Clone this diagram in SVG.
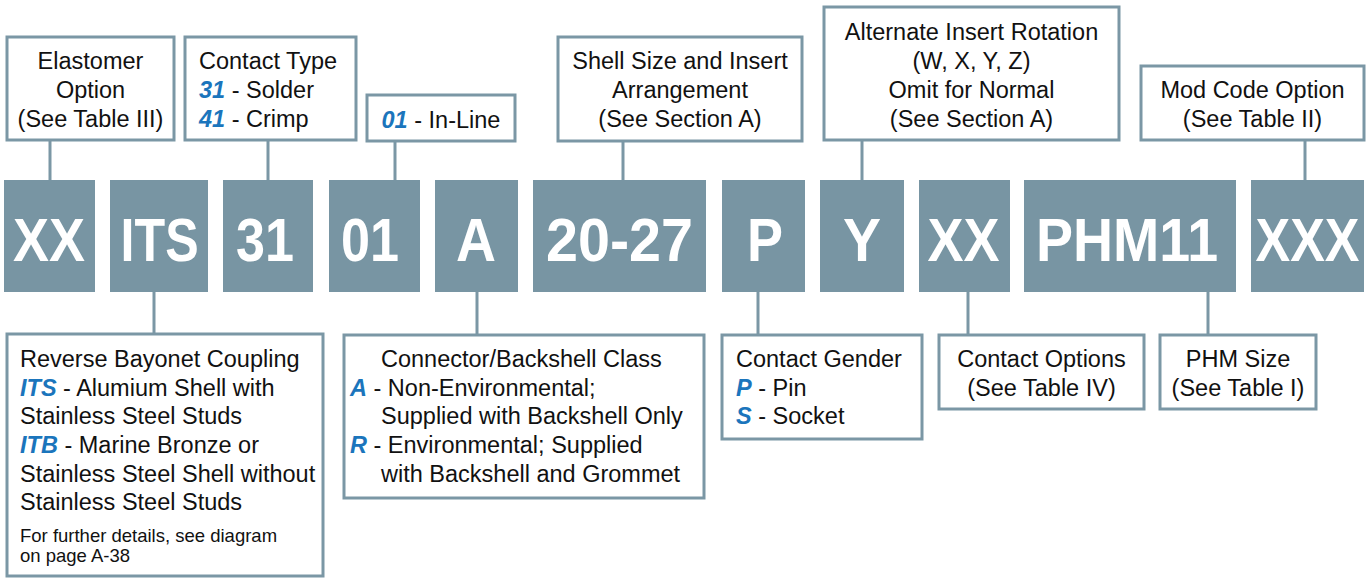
<svg xmlns="http://www.w3.org/2000/svg" width="1369" height="578" viewBox="0 0 1369 578">
<style>
.box{fill:#fff;stroke:#7b97a5;stroke-width:3}
.code{fill:#7895a3}
.ct{font-family:"Liberation Sans",Arial,sans-serif;font-weight:bold;font-size:61px;fill:#fff;text-anchor:middle}
.t{font-family:"Liberation Sans",Arial,sans-serif;font-size:23.5px;fill:#111}
.c{text-anchor:middle}
.s{font-size:18.5px}
.b{fill:#1b75bc;font-weight:bold;font-style:italic}
.ln{stroke:#7b97a5;stroke-width:3;fill:none}
</style>
<rect width="1369" height="578" fill="#fff"/>
<g id="connectors">
<line class="ln" x1="50" y1="140" x2="50" y2="180"/>
<line class="ln" x1="268" y1="140" x2="268" y2="180"/>
<line class="ln" x1="395" y1="141" x2="395" y2="180"/>
<line class="ln" x1="623" y1="141" x2="623" y2="180"/>
<line class="ln" x1="862" y1="140" x2="862" y2="180"/>
<line class="ln" x1="1305" y1="140" x2="1305" y2="180"/>
<line class="ln" x1="154" y1="292" x2="154" y2="334"/>
<line class="ln" x1="477" y1="292" x2="477" y2="335"/>
<line class="ln" x1="758" y1="292" x2="758" y2="335"/>
<line class="ln" x1="968" y1="292" x2="968" y2="335"/>
<line class="ln" x1="1208" y1="292" x2="1208" y2="335"/>
</g>
<g id="elastomer">
<rect class="box" x="7" y="37" width="167" height="103"/>
<text class="t c" x="90.5" y="69">Elastomer</text>
<text class="t c" x="90.5" y="98">Option</text>
<text class="t c" x="90.5" y="127">(See Table III)</text>
</g>
<g id="contact-type">
<rect class="box" x="185" y="37" width="171" height="103"/>
<text class="t" x="199" y="69">Contact Type</text>
<text class="t" x="199" y="98"><tspan class="b">31</tspan> - Solder</text>
<text class="t" x="199" y="127"><tspan class="b">41</tspan> - Crimp</text>
</g>
<g id="inline">
<rect class="box" x="367" y="95" width="148" height="46"/>
<text class="t c" x="441" y="128"><tspan class="b">01</tspan> - In-Line</text>
</g>
<g id="shell-size">
<rect class="box" x="558" y="37" width="244" height="104"/>
<text class="t c" x="680" y="69">Shell Size and Insert</text>
<text class="t c" x="680" y="98">Arrangement</text>
<text class="t c" x="680" y="127">(See Section A)</text>
</g>
<g id="rotation">
<rect class="box" x="824" y="7" width="295" height="133"/>
<text class="t c" x="971.5" y="40">Alternate Insert Rotation</text>
<text class="t c" x="971.5" y="69">(W, X, Y, Z)</text>
<text class="t c" x="971.5" y="98">Omit for Normal</text>
<text class="t c" x="971.5" y="127">(See Section A)</text>
</g>
<g id="mod-code">
<rect class="box" x="1141" y="66" width="223" height="74"/>
<text class="t c" x="1252.5" y="98">Mod Code Option</text>
<text class="t c" x="1252.5" y="127">(See Table II)</text>
</g>
<g id="code-xx1"><rect class="code" x="4" y="180" width="91" height="112"/><text class="ct" x="49" y="261" textLength="72" lengthAdjust="spacingAndGlyphs">XX</text></g>
<g id="code-its"><rect class="code" x="110" y="180" width="98" height="112"/><text class="ct" x="159.6" y="261" textLength="78" lengthAdjust="spacingAndGlyphs">ITS</text></g>
<g id="code-31"><rect class="code" x="223" y="180" width="90" height="112"/><text class="ct" x="265" y="261" textLength="58" lengthAdjust="spacingAndGlyphs">31</text></g>
<g id="code-01"><rect class="code" x="329" y="180" width="91" height="112"/><text class="ct" x="370" y="261" textLength="58" lengthAdjust="spacingAndGlyphs">01</text></g>
<g id="code-a"><rect class="code" x="435" y="180" width="83" height="112"/><text class="ct" x="476" y="261" textLength="40" lengthAdjust="spacingAndGlyphs">A</text></g>
<g id="code-2027"><rect class="code" x="533" y="180" width="173" height="112"/><text class="ct" x="619.5" y="261" textLength="147" lengthAdjust="spacingAndGlyphs">20-27</text></g>
<g id="code-p"><rect class="code" x="722" y="180" width="83" height="112"/><text class="ct" x="765" y="261" textLength="36" lengthAdjust="spacingAndGlyphs">P</text></g>
<g id="code-y"><rect class="code" x="820" y="180" width="84" height="112"/><text class="ct" x="862" y="261" textLength="38" lengthAdjust="spacingAndGlyphs">Y</text></g>
<g id="code-xx2"><rect class="code" x="919" y="180" width="91" height="112"/><text class="ct" x="963.6" y="261" textLength="72" lengthAdjust="spacingAndGlyphs">XX</text></g>
<g id="code-phm11"><rect class="code" x="1024" y="180" width="212" height="112"/><text class="ct" x="1127" y="261" textLength="182" lengthAdjust="spacingAndGlyphs">PHM11</text></g>
<g id="code-xxx"><rect class="code" x="1251" y="180" width="113" height="112"/><text class="ct" x="1307.5" y="261" textLength="104" lengthAdjust="spacingAndGlyphs">XXX</text></g>
<g id="coupling">
<rect class="box" x="7" y="334" width="316" height="242"/>
<text class="t" x="20" y="367">Reverse Bayonet Coupling</text>
<text class="t" x="20" y="396"><tspan class="b">ITS</tspan> - Alumium Shell with</text>
<text class="t" x="20" y="424">Stainless Steel Studs</text>
<text class="t" x="20" y="453"><tspan class="b">ITB</tspan> - Marine Bronze or</text>
<text class="t" x="20" y="482">Stainless Steel Shell without</text>
<text class="t" x="20" y="510">Stainless Steel Studs</text>
<text class="t s" x="20" y="542">For further details, see diagram</text>
<text class="t s" x="20" y="562">on page A-38</text>
</g>
<g id="backshell-class">
<rect class="box" x="344" y="335" width="360" height="163"/>
<text class="t" x="381" y="367">Connector/Backshell Class</text>
<text class="t" x="350" y="396"><tspan class="b">A</tspan> - Non-Environmental;</text>
<text class="t" x="381" y="424">Supplied with Backshell Only</text>
<text class="t" x="350" y="453"><tspan class="b">R</tspan> - Environmental; Supplied</text>
<text class="t" x="381" y="482">with Backshell and Grommet</text>
</g>
<g id="contact-gender">
<rect class="box" x="722" y="335" width="200" height="104"/>
<text class="t" x="736" y="367">Contact Gender</text>
<text class="t" x="736" y="396"><tspan class="b">P</tspan> - Pin</text>
<text class="t" x="736" y="424"><tspan class="b">S</tspan> - Socket</text>
</g>
<g id="contact-options">
<rect class="box" x="939" y="335" width="205" height="74"/>
<text class="t c" x="1041.5" y="367">Contact Options</text>
<text class="t c" x="1041.5" y="396">(See Table IV)</text>
</g>
<g id="phm-size">
<rect class="box" x="1160" y="335" width="156" height="74"/>
<text class="t c" x="1238" y="367">PHM Size</text>
<text class="t c" x="1238" y="396">(See Table I)</text>
</g>
</svg>
